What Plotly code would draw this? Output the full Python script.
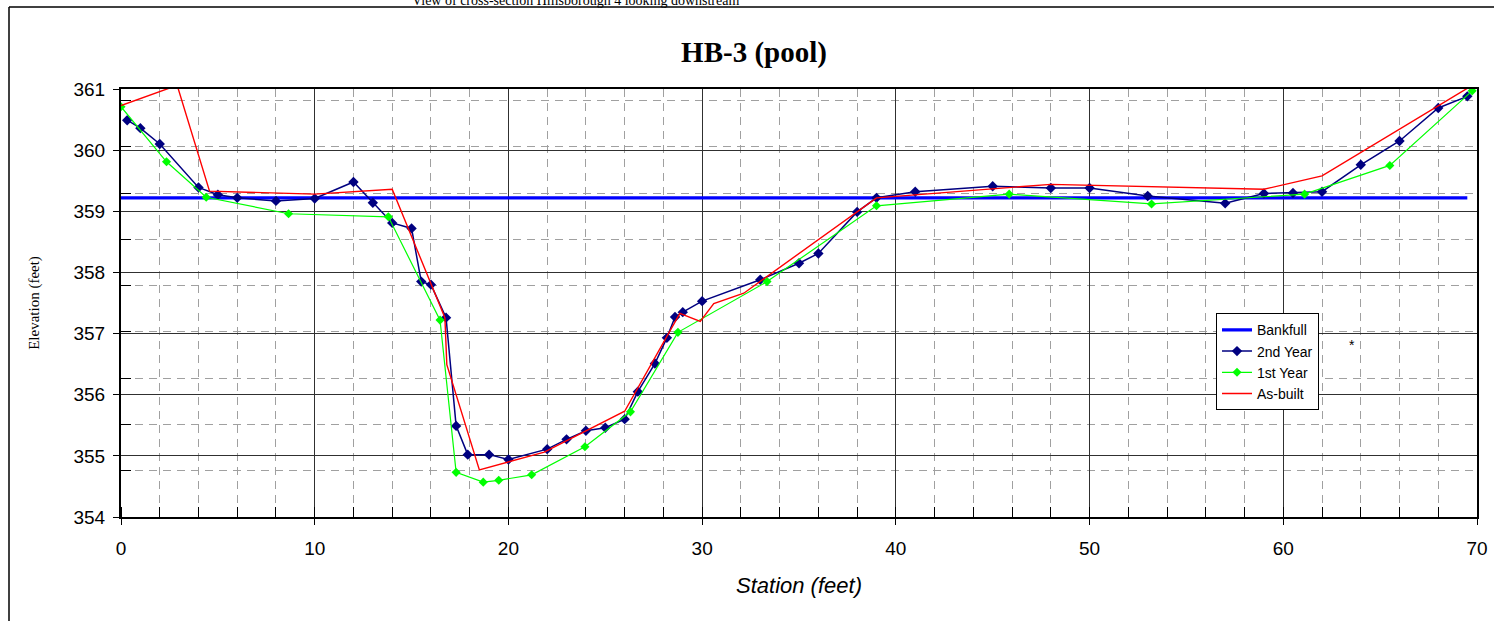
import plotly.graph_objects as go

# ---- data ----
bankfull_x = [0, 69.5]
bankfull_y = [359.22, 359.22]

second_year_x = [0.32, 1.0, 2.0, 4.0, 5.0, 6.0, 8.0, 10.0, 12.0, 13.0, 14.0, 15.0, 15.5, 16.0,
                 16.78, 17.3, 17.9, 19.0, 20.0, 22.0, 23.0, 24.0, 25.0, 26.0, 26.68, 27.56, 28.18,
                 28.6, 29.0, 30.0, 33.0, 35.0, 36.0, 38.0, 39.0, 41.0, 45.0, 48.0, 50.0, 53.0,
                 57.0, 59.0, 60.5, 62.0, 64.0, 66.0, 68.0, 69.5]
second_year_y = [360.49, 360.36, 360.10, 359.39, 359.27, 359.22, 359.17, 359.21, 359.48, 359.14,
                 358.81, 358.72, 357.85, 357.80, 357.26, 355.49, 355.02, 355.02, 354.94, 355.11,
                 355.27, 355.41, 355.46, 355.60, 356.05, 356.51, 356.93, 357.27, 357.35, 357.53,
                 357.88, 358.15, 358.31, 358.99, 359.22, 359.32, 359.41, 359.38, 359.38, 359.25,
                 359.13, 359.29, 359.30, 359.32, 359.76, 360.15, 360.69, 360.88]

first_year_x = [0.0, 2.35, 4.4, 8.65, 13.8, 16.47, 17.3, 18.7, 19.5, 21.2, 23.95, 26.3, 28.75,
                33.35, 39.0, 45.85, 53.2, 61.1, 65.5, 69.75]
first_year_y = [360.71, 359.81, 359.23, 358.96, 358.91, 357.22, 354.73, 354.57, 354.60, 354.69,
                355.15, 355.72, 357.02, 357.85, 359.09, 359.28, 359.12, 359.28, 359.75, 360.97]

as_built_x = [0.0, 2.9, 4.57, 10.0, 14.0, 16.72, 16.82, 18.5, 21.85, 26.0, 28.85, 29.9, 30.6,
              32.15, 39.0, 48.0, 59.0, 62.0, 69.65]
as_built_y = [360.73, 361.06, 359.33, 359.28, 359.36, 357.26, 356.49, 354.77, 355.06, 355.73,
              357.33, 357.20, 357.49, 357.66, 359.22, 359.44, 359.36, 359.58, 361.04]

x_range = [0, 70]
y_range = [354, 361]

SANS = "Liberation Sans, Arial, sans-serif"
SERIF = "Liberation Serif, Times New Roman, serif"

fig = go.Figure()
fig.add_trace(go.Scatter(x=bankfull_x, y=bankfull_y, mode="lines", name="Bankfull",
                         line=dict(color="#0000FF", width=3.2)))
fig.add_trace(go.Scatter(x=second_year_x, y=second_year_y, mode="lines+markers", name="2nd Year",
                         line=dict(color="#000080", width=1.5),
                         marker=dict(symbol="diamond", size=8, color="#000080")))
fig.add_trace(go.Scatter(x=first_year_x, y=first_year_y, mode="lines+markers", name="1st Year",
                         line=dict(color="#00FF00", width=1.2),
                         marker=dict(symbol="diamond", size=7, color="#00FF00")))
fig.add_trace(go.Scatter(x=as_built_x, y=as_built_y, mode="lines", name="As-built",
                         line=dict(color="#FF0000", width=1.4)))

L, R, T, B = 121, 17, 89, 104
W, H = 1494, 621
pw, ph = W - L - R, H - T - B

def px(xp):
    return (xp - L) / pw

def py(yp):
    return (H - B - yp) / ph

fig.update_layout(
    width=W, height=H, autosize=False,
    margin=dict(l=L, r=R, t=T, b=B, pad=0, autoexpand=False),
    paper_bgcolor="white", plot_bgcolor="white",
    title=dict(text="<b>HB-3 (pool)</b>", x=px(754), xref="paper", xanchor="center",
               y=1 - 52 / H, yanchor="middle",
               font=dict(family=SERIF, size=29, color="black")),
    showlegend=True,
    legend=dict(x=px(1216), y=py(313.3), xanchor="left", yanchor="top",
                bgcolor="white", bordercolor="black", borderwidth=1,
                font=dict(family=SANS, size=14, color="black"), tracegroupgap=0),
    xaxis=dict(range=x_range, dtick=10, tick0=0, showgrid=True, gridcolor="#303030", gridwidth=1,
               zeroline=False, showline=True, linecolor="black", linewidth=2, mirror=True,
               automargin=False,
               ticks="outside", ticklen=6, tickcolor="black", ticklabelstandoff=7,
               tickfont=dict(family=SANS, size=19, color="black"),
               minor=dict(dtick=2, tick0=0, showgrid=True, gridcolor="#a0a0a0", griddash="8px,6px",
                          gridwidth=1, ticks="inside", ticklen=10, tickcolor="black"),
               title=dict(text="<i>Station (feet)</i>", standoff=20,
                          font=dict(family=SANS, size=22, color="black"))),
    yaxis=dict(range=y_range, dtick=1, tick0=354, showgrid=True, gridcolor="#303030", gridwidth=1,
               zeroline=False, showline=True, linecolor="black", linewidth=2, mirror=True,
               automargin=False,
               ticks="outside", ticklen=6, tickcolor="black", ticklabelstandoff=4,
               tickfont=dict(family=SANS, size=19, color="black"),
               minor=dict(dtick=0.757, tick0=354, showgrid=True, gridcolor="#a0a0a0",
                          griddash="8px,6px", gridwidth=1, ticks="inside", ticklen=10,
                          tickcolor="black"),
               title=dict(text="Elevation (feet)", standoff=30,
                          font=dict(family=SERIF, size=15, color="black"))),
)

fig.add_annotation(text="View of cross-section Hillsborough 4 looking downstream",
                   xref="paper", yref="paper", x=px(575), y=py(0), xanchor="center",
                   yanchor="middle", showarrow=False,
                   font=dict(family=SERIF, size=14, color="black"))
fig.add_annotation(text="*", xref="paper", yref="paper", x=px(1352), y=py(345),
                   xanchor="center", yanchor="middle", showarrow=False,
                   font=dict(family=SANS, size=14, color="black"))

# outer chart frame (left and top edges)
fig.add_shape(type="line", xref="paper", yref="paper", x0=px(9), x1=px(9),
              y0=py(7), y1=py(640), line=dict(color="black", width=1.5))
fig.add_shape(type="line", xref="paper", yref="paper", x0=px(9), x1=px(1510),
              y0=py(7), y1=py(7), line=dict(color="black", width=1.5))

fig.write_html("out.html",
               config={"displayModeBar": False, "responsive": False},
               post_script="document.body.style.margin='0';document.body.style.overflow='hidden';")
